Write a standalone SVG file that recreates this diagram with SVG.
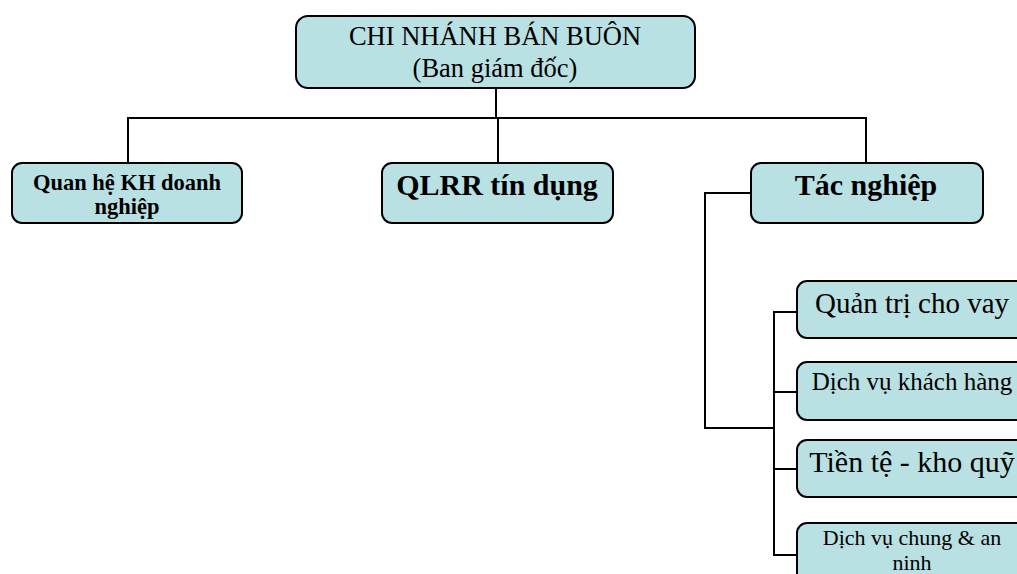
<svg xmlns="http://www.w3.org/2000/svg" width="1017" height="574" viewBox="0 0 1017 574">
  <style>
    .box { fill: #b9e0e3; stroke: #000; stroke-width: 2; }
    .link { fill: none; stroke: #000; stroke-width: 2; }
    text { font-family: "Liberation Serif", "Times New Roman", serif; fill: #000; text-anchor: middle; }
    .b { font-weight: bold; }
  </style>
  <rect width="1017" height="574" fill="#fff"/>

  <g id="connectors">
    <line class="link" x1="496" y1="88" x2="496" y2="118"/>
    <line class="link" x1="127" y1="118" x2="866" y2="118"/>
    <line class="link" x1="128" y1="118" x2="128" y2="163"/>
    <line class="link" x1="498" y1="118" x2="498" y2="163"/>
    <line class="link" x1="866" y1="117" x2="866" y2="163"/>
    <polyline class="link" points="751,193 705,193 705,428 774,428"/>
    <line class="link" x1="774" y1="312" x2="774" y2="556"/>
    <line class="link" x1="773" y1="312" x2="797" y2="312"/>
    <line class="link" x1="773" y1="392" x2="797" y2="392"/>
    <line class="link" x1="773" y1="469" x2="797" y2="469"/>
    <line class="link" x1="773" y1="555" x2="797" y2="555"/>
  </g>

  <g id="chi-nhanh">
    <rect class="box" x="296" y="16" width="399" height="72" rx="12"/>
    <text x="495" y="45" font-size="26.5">CHI NHÁNH BÁN BUÔN</text>
    <text x="495" y="77" font-size="26.5">(Ban giám đốc)</text>
  </g>

  <g id="quan-he-kh">
    <rect class="box" x="12" y="163" width="230" height="60" rx="10"/>
    <text class="b" x="127" y="190" font-size="22.5">Quan hệ KH doanh</text>
    <text class="b" x="127" y="214" font-size="22.5">nghiệp</text>
  </g>

  <g id="qlrr">
    <rect class="box" x="382" y="163" width="231" height="60" rx="10"/>
    <text class="b" x="497" y="195" font-size="30">QLRR tín dụng</text>
  </g>

  <g id="tac-nghiep">
    <rect class="box" x="751" y="163" width="232" height="60" rx="10"/>
    <text class="b" x="866" y="195" font-size="30">Tác nghiệp</text>
  </g>

  <g id="quan-tri-cho-vay">
    <rect class="box" x="797" y="281" width="231" height="57" rx="10"/>
    <text x="912" y="313" font-size="29">Quản trị cho vay</text>
  </g>

  <g id="dich-vu-khach-hang">
    <rect class="box" x="797" y="362" width="231" height="58" rx="10"/>
    <text x="912" y="390" font-size="25">Dịch vụ khách hàng</text>
  </g>

  <g id="tien-te-kho-quy">
    <rect class="box" x="797" y="440" width="231" height="57" rx="10"/>
    <text x="912" y="472" font-size="30">Tiền tệ - kho quỹ</text>
  </g>

  <g id="dich-vu-chung">
    <rect class="box" x="797" y="523" width="231" height="70" rx="10"/>
    <text x="912" y="545" font-size="22">Dịch vụ chung &amp; an</text>
    <text x="912" y="570" font-size="22">ninh</text>
  </g>
</svg>
